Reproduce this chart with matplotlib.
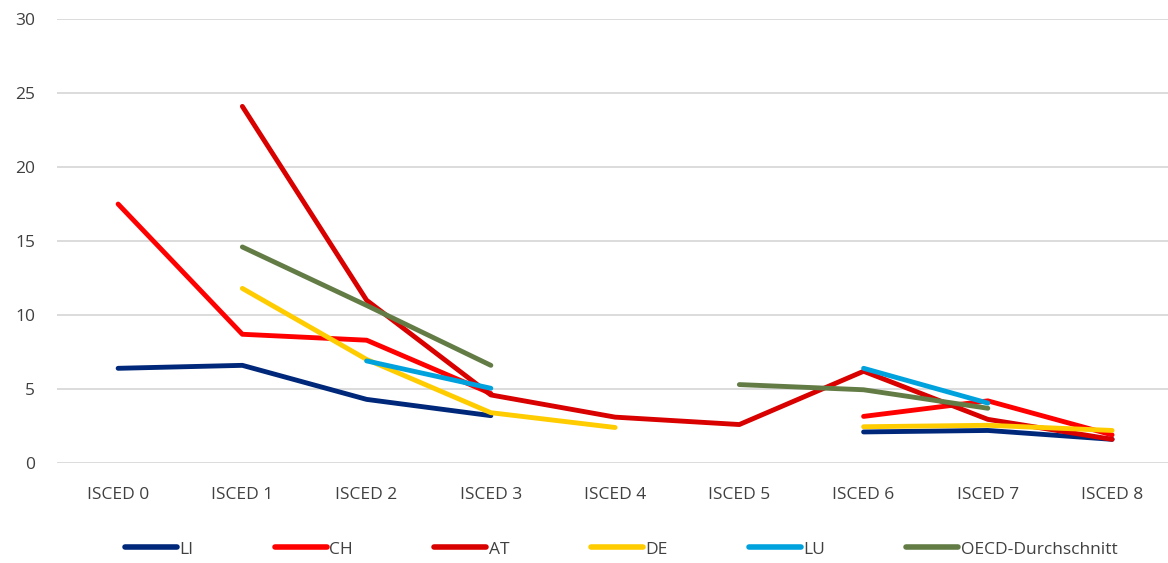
import numpy as np
import matplotlib
matplotlib.use("Agg")
import matplotlib.pyplot as plt

nan = np.nan
categories = ["ISCED 0", "ISCED 1", "ISCED 2", "ISCED 3", "ISCED 4",
              "ISCED 5", "ISCED 6", "ISCED 7", "ISCED 8"]
LI   = [6.4, 6.6, 4.3, 3.2, nan, nan, 2.1, 2.2, 1.6]
CH   = [17.5, 8.7, 8.3, 4.7, nan, nan, 3.15, 4.2, 1.9]
AT   = [nan, 24.1, 11.0, 4.6, 3.1, 2.6, 6.2, 2.95, 1.6]
DE   = [nan, 11.8, 7.0, 3.4, 2.4, nan, 2.45, 2.55, 2.2]
LU   = [nan, nan, 6.9, 5.05, nan, nan, 6.4, 4.05, nan]
OECD = [nan, 14.6, 10.65, 6.6, nan, 5.3, 4.95, 3.7, nan]
yticks = [0, 5, 10, 15, 20, 25, 30]

series = [("LI", LI, "#00287A"), ("CH", CH, "#FF0000"), ("AT", AT, "#D90000"),
          ("DE", DE, "#FFCC00"), ("LU", LU, "#00A2DE"),
          ("OECD-Durchschnitt", OECD, "#637C46")]

plt.rcParams['font.family'] = ['Open Sans', 'DejaVu Sans']
fig = plt.figure(figsize=(11.68, 5.63), dpi=100)
ax = fig.add_axes([0.049, 0.1776, 0.951, 0.7885])
x = np.arange(len(categories))
for name, vals, col in series:
    ax.plot(x, vals, color=col, lw=3.5, solid_capstyle='round',
            solid_joinstyle='round', label=name)

ax.set_ylim(0, 30)
ax.set_xlim(-0.49, 8.45)
ax.set_yticks(yticks)
ax.set_xticks(x)
ax.set_xticklabels(categories)
ax.tick_params(length=0, labelsize=12.5, colors="#404040")
ax.tick_params(axis='x', pad=17)
ax.tick_params(axis='y', pad=16)
ax.grid(axis='y', color="#D9D9D9", lw=1.3)
ax.set_axisbelow(True)
for s in ax.spines.values():
    s.set_visible(False)

leg = fig.legend(loc='center', bbox_to_anchor=(0.532, 0.024), ncol=6, frameon=False,
                 fontsize=12.5, handlelength=3.0, handletextpad=0.15,
                 columnspacing=4.67, labelcolor="#404040")
for h in leg.get_lines():
    h.set_linewidth(4)
    h.set_solid_capstyle('round')

fig.savefig("out.png", dpi=100)
